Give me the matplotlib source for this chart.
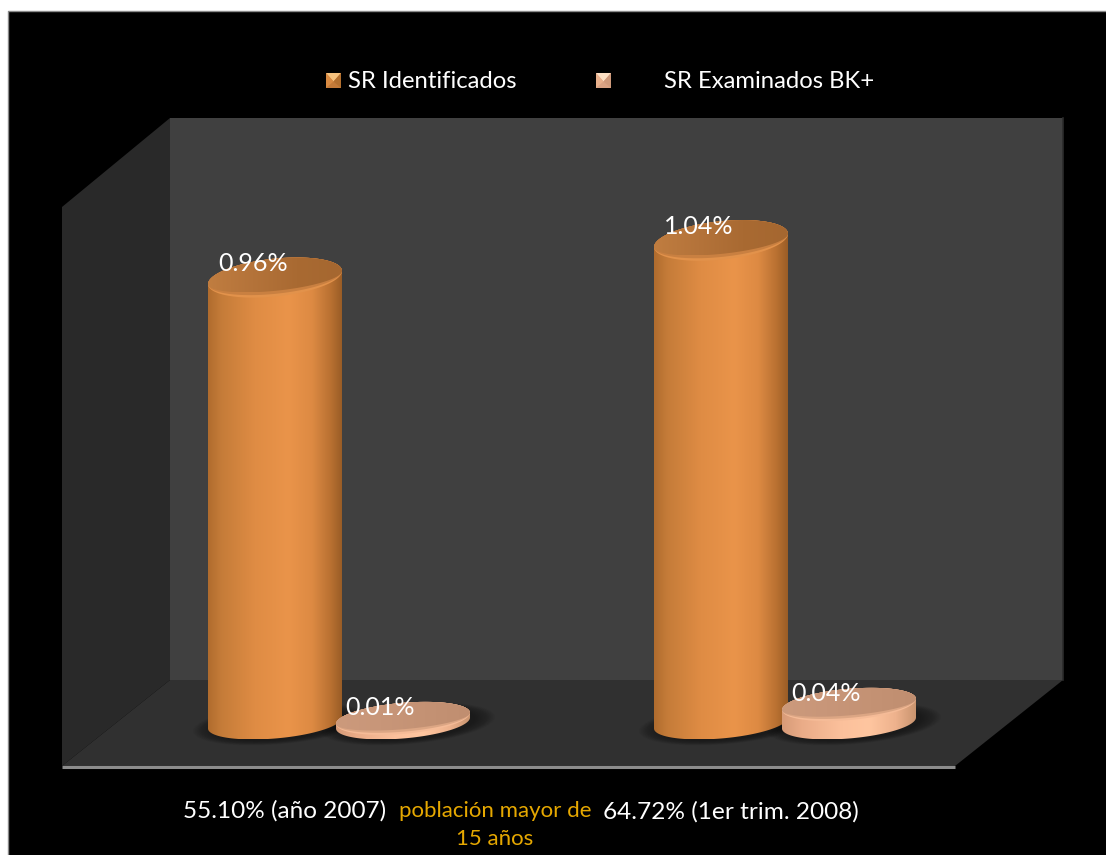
import numpy as np
import matplotlib
matplotlib.use("Agg")
import matplotlib.pyplot as plt
from matplotlib.colors import LinearSegmentedColormap
from matplotlib.patches import Polygon

# datos
grupos = ["55.10% (año 2007)", "64.72% (1er trim. 2008)"]
series = ["SR Identificados", "SR Examinados BK+"]
identificados = [0.96, 1.04]
examinados = [0.01, 0.04]
nota = "población mayor de\n15 años"

W, H = 1106, 855
# escala del eje: 446 px entre grupos, 464 px por unidad de porcentaje
PX_X = 446.0
PX_Y = 464.0
X0, Y0 = 339.0, 723.0
OFFSET = 64.0 / PX_X
RX = 67.0


def to_x(px):
    return (np.asarray(px, dtype=float) - X0) / PX_X


def to_y(py):
    return (Y0 - np.asarray(py, dtype=float)) / PX_Y


plt.rcParams["font.family"] = ["Lato", "DejaVu Sans"]

fig = plt.figure(figsize=(W / 100, H / 100), dpi=100, facecolor="white")
ax = fig.add_axes([0, 0, 1, 1])
ax.axis("off")
ax.set_xlim(to_x(0), to_x(W))
ax.set_ylim(to_y(H), to_y(0))
ax.set_autoscale_on(False)


def poly_px(points, color, z=1):
    xy = np.column_stack([to_x([p[0] for p in points]), to_y([p[1] for p in points])])
    ax.add_patch(Polygon(xy, closed=True, facecolor=color, edgecolor="none", zorder=z))


def ellipse_pts(cx, v, t, scale=1.0, lift=0.0, front=1.0):
    # la elipse se abre un poco con la altura y va inclinada por la perspectiva
    ry = (15.5 + 3.6 * v) * scale
    sh = (5.5 + 1.1 * v) * scale
    s = np.sin(t)
    s = np.where(s < 0, s * front, s)
    x = cx + RX * scale * np.cos(t) / PX_X
    y = v + (ry * s + sh * np.cos(t) + lift) / PX_Y
    return x, y


def shaded(x, y, colors, z):
    # rampa horizontal recortada con la silueta
    cmap = LinearSegmentedColormap.from_list("rampa", colors)
    ramp = np.linspace(0, 1, 256).reshape(1, -1)
    patch = Polygon(np.column_stack([x, y]), closed=True, facecolor="none", edgecolor="none",
                    zorder=z)
    ax.add_patch(patch)
    im = ax.imshow(ramp, cmap=cmap, aspect="auto", zorder=z, interpolation="bilinear",
                   extent=[x.min(), x.max(), y.min(), y.max()])
    im.set_clip_path(patch)


def cylinder(cx, v, body, cap, rim, rim_mid):
    t = np.linspace(0, 2 * np.pi, 240)
    # sombra difusa sobre el piso
    for k in range(16):
        sx, sy = ellipse_pts(cx + 5 / PX_X, 0, t, scale=1.30 - k * 0.02, lift=-1)
        ax.fill(sx, sy, color="black", alpha=0.028, lw=0, zorder=3)
    bx, by = ellipse_pts(cx, 0, np.linspace(np.pi, 2 * np.pi, 120))
    tx, ty = ellipse_pts(cx, v, np.linspace(0, np.pi, 120))
    shaded(np.r_[bx, tx], np.r_[by, ty], body, 4)
    # bisel claro solo en el frente de la tapa
    ex, ey = ellipse_pts(cx, v, t)
    ax.fill(ex, ey, color=rim, lw=0, zorder=5)
    mx, my = ellipse_pts(cx, v, t, front=0.86)
    ax.fill(mx, my, color=rim_mid, lw=0, zorder=5)
    ix, iy = ellipse_pts(cx, v, t, front=0.70)
    shaded(ix, iy, cap, 6)


# fondo negro y paredes
poly_px([(8, 11), (W + 5, 11), (W + 5, H + 5), (8, H + 5)], "black", z=0)
ax.plot(to_x([8, 8, W]), to_y([H, 11, 11]), color="#8a8a8a", lw=1, zorder=0.5)
poly_px([(62, 207), (170, 118), (170, 680), (62, 766)], "#292929")
poly_px([(170, 118), (1063, 118), (1063, 680), (170, 680)], "#404040")
poly_px([(170, 680), (1063, 680), (955, 766), (62, 766)], "#303030")
ax.plot(to_x([1063, 1063]), to_y([118, 680]), color="#2c2c2c", lw=1.2, zorder=2)
ax.plot(to_x([62, 955]), to_y([766.5, 766.5]), color="#8c8c8c", lw=2.2, zorder=2,
        solid_capstyle="butt")

NARANJA = [(0, "#b06c2e"), (0.1, "#c57c39"), (0.35, "#df8c44"), (0.6, "#ea944a"),
           (0.78, "#dd8a43"), (0.92, "#b87031"), (1, "#9a5d26")]
SALMON = [(0, "#d79b78"), (0.15, "#eaac88"), (0.45, "#fcc19c"), (0.65, "#ffc6a0"),
          (0.85, "#eeb28d"), (1, "#c9946f")]

for i in range(len(grupos)):
    cx = i - OFFSET
    v = identificados[i]
    cylinder(cx, v, NARANJA, ["#c07d40", "#b4733a", "#a96a32", "#a56730"], "#e2924b", "#c98041")
    ax.text(cx - 22 / PX_X, v + 14 / PX_Y, f"{v:.2f}%", color="white", fontsize=18,
            ha="center", va="center", zorder=8)

    cx = i + OFFSET
    v = examinados[i]
    cylinder(cx, v, SALMON, ["#cc9a7c", "#c89679", "#c49274", "#c08e70"], "#f5bb97", "#dca684")
    ax.text(cx - 22.5 / PX_X, v + 11 / PX_Y, f"{v:.2f}%", color="white", fontsize=18,
            ha="center", va="center", zorder=8)

# leyenda
leg_x = [326, 596]
leg_text_x = [348, 664]
leg_colors = [("#f6c27e", "#d98a42", "#b4702f", "#c47a38"), ("#fde0c4", "#e8b08c", "#cf9a7b", "#d9a283")]
for nombre, lx, tx, c in zip(series, leg_x, leg_text_x, leg_colors):
    s = 15
    top, bot = 73, 88
    mid = (lx + s / 2, (top + bot) / 2 + 1)
    poly_px([(lx, bot), (lx + s, bot), (lx + s, top), (lx, top)], c[3], z=7)
    poly_px([(lx, top), (lx + s, top), mid], c[0], z=7)
    poly_px([(lx, top), mid, (lx, bot)], c[1], z=7)
    poly_px([(lx + s, top), mid, (lx + s, bot)], c[2], z=7)
    ax.text(to_x(tx), to_y(82), nombre, color="white", fontsize=17.2, ha="left", va="center")

# etiquetas inferiores
ax.text(to_x(285), to_y(811), grupos[0], color="white", fontsize=17.5, ha="center", va="center")
ax.text(to_x(731), to_y(812), grupos[1], color="white", fontsize=17.6, ha="center", va="center")
ax.text(to_x(495), to_y(825), nota, color="#e6a800", fontsize=16, ha="center", va="center",
        linespacing=1.45)

fig.savefig("out.png", dpi=100, facecolor="white")
plt.close(fig)
